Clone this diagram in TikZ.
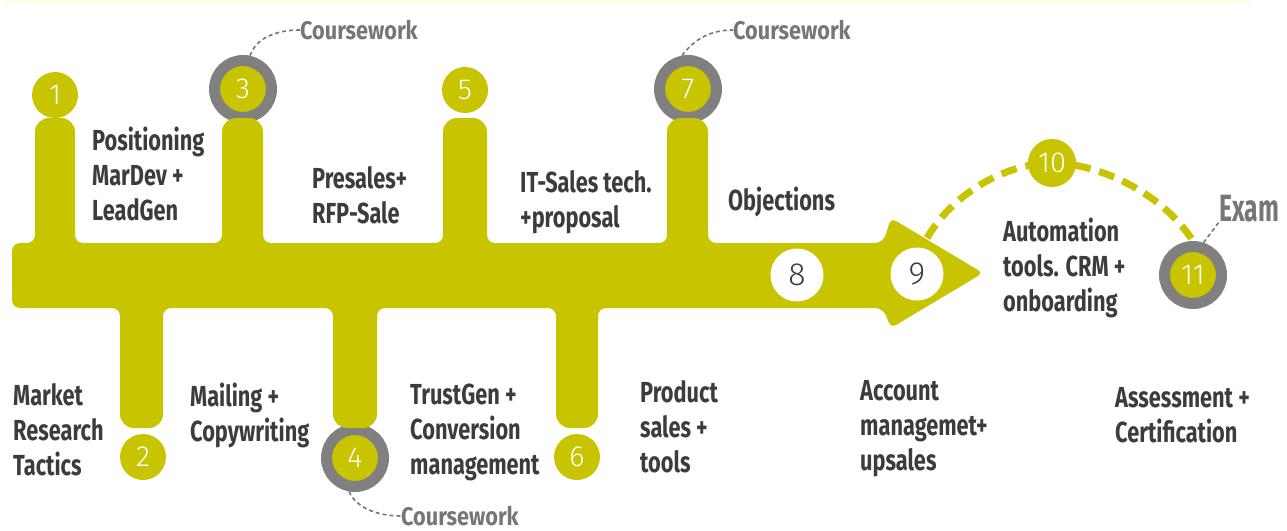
\documentclass[tikz,border=0pt]{standalone}
\usepackage{fontspec}
\setmainfont{Fira Sans}
\newfontfamily\labelfont{Fira Sans}[FakeStretch=0.75]
\newfontfamily\notefont{Fira Sans}[FakeStretch=0.85]
\newfontfamily\examfont{Fira Sans}[FakeStretch=0.65]
\newfontfamily\numfont{Fira Sans Light}
\definecolor{courseyellow}{RGB}{200,196,0}
\definecolor{stripyellow}{RGB}{252,252,222}
\definecolor{ringgray}{RGB}{128,128,128}
\definecolor{txtgray}{RGB}{60,60,60}
\definecolor{notegray}{RGB}{118,118,118}

\begin{document}
\begin{tikzpicture}[x=1pt,y=-1pt,
	topic/.style={anchor=north west, align=left, inner sep=0pt, text=txtgray,
		font=\labelfont\bfseries\fontsize{29}{35}\selectfont},
	note/.style={inner sep=0pt, text=notegray,
		font=\notefont\bfseries\fontsize{25.5}{25.5}\selectfont},
	dot/.style={circle, fill=courseyellow, minimum size=46pt, inner sep=0pt, text=white,
		font=\numfont\fontsize{29}{29}\selectfont},
	ringdot/.style={dot, draw=ringgray, line width=11pt, minimum size=57pt},
	whitedot/.style={dot, fill=white, minimum size=53pt, text=txtgray,
		font=\numfont\fontsize{32}{32}\selectfont},
	notedash/.style={draw=notegray, line width=1.6pt, dash pattern=on 4pt off 3pt},
	pathdash/.style={draw=courseyellow, line width=7pt, dash pattern=on 16pt off 9pt}]
	\useasboundingbox (0,0) rectangle (1287,530);
	\fill[stripyellow] (5,0) rectangle (1250,3);
	
	% coursework and exam rings sit under the stems
	\node[ringdot] (c3) at (243,89) {3};
	\node[ringdot] (c7) at (688,89) {7};
	\node[ringdot] (c4) at (355,458) {4};
	\node[ringdot] (c11) at (1193,275) {11};
	
	% timeline with stems and arrow head
	\fill[courseyellow, rounded corners=8pt]
		(12,308) -- (12,243) -- (35,243)
		[rounded corners=14pt] -- (35,118) -- (75,118) [rounded corners=8pt] -- (75,243) -- (222,243)
		[rounded corners=14pt] -- (222,118) -- (263,118) [rounded corners=8pt] -- (263,243) -- (443,243)
		[rounded corners=14pt] -- (443,118) -- (487,118) [rounded corners=8pt] -- (487,243) -- (667,243)
		[rounded corners=14pt] -- (667,118) -- (708,118) [rounded corners=8pt] -- (708,243) -- (883,243)
		[rounded corners=6pt] -- (891,218) -- (983,273) -- (891,328) [rounded corners=8pt] -- (883,308) -- (598,308)
		[rounded corners=14pt] -- (598,428) -- (556,428) [rounded corners=8pt] -- (556,308) -- (377,308)
		[rounded corners=14pt] -- (377,428) -- (333,428) [rounded corners=8pt] -- (333,308) -- (163,308)
		[rounded corners=14pt] -- (163,428) -- (120,428) [rounded corners=8pt] -- (120,308) -- cycle;
	
	\node[dot] (c1) at (55,95) {1};
	\node[dot] (c2) at (143,457) {2};
	\node[dot] (c5) at (465,90) {5};
	\node[dot] (c6) at (577,457) {6};
	\node[whitedot] (c8) at (797,275) {8};
	\node[whitedot] (c9) at (917,274) {9};
	
	% dashed jump over to the exam
	\coordinate (a9) at (927,238);
	\coordinate (p10) at (1052,163);
	\draw[pathdash] (a9) .. controls (955,190) and (1010,163) .. (p10)
		.. controls (1095,163) and (1160,190) .. (c11.north);
	\node[dot, minimum size=48pt] (c10) at (p10) {10};
	
	% notes
	\node[note, anchor=west] (cw3) at (300,30) {Coursework};
	\node[note, anchor=west] (cw7) at (733,30) {Coursework};
	\node[note, anchor=west] (cw4) at (401,516) {Coursework};
	\node[note, anchor=south west, font=\examfont\bfseries\fontsize{38}{38}\selectfont] (exam) at (1219,222) {Exam};
	\draw[notedash] (c3.78) .. controls (256,38) and (276,30) .. (cw3.west);
	\draw[notedash] (c7.100) .. controls (695,38) and (712,30) .. (cw7.west);
	\draw[notedash] (c4.-100) .. controls (356,508) and (378,516) .. (cw4.west);
	\draw[notedash] (c11.72) -- (exam.south west);
	
	% topics above the line
	\node[topic] (t3) at (92,127) {Positioning\\MarDev +\\LeadGen};
	\node[topic] (t5) at (312,166) {Presales+\\RFP-Sale};
	\node[topic] (t7) at (520,170) {IT-Sales tech.\\+proposal};
	\node[topic] (t8) at (728,187) {Objections};
	\node[topic] (t10) at (1003,218) {Automation\\tools. CRM +\\onboarding};
	% topics below the line
	\node[topic] (t1) at (13,383) {Market\\Research\\Tactics};
	\node[topic] (t2) at (190,383) {Mailing +\\Copywriting};
	\node[topic] (t4) at (410,384) {TrustGen +\\Conversion\\management};
	\node[topic] (t6) at (640,380) {Product\\sales +\\tools};
	\node[topic] (t9) at (860,380) {Account\\managemet+\\upsales};
	\node[topic] (t11) at (1115,387) {Assessment +\\Certification};
\end{tikzpicture}
\end{document}
